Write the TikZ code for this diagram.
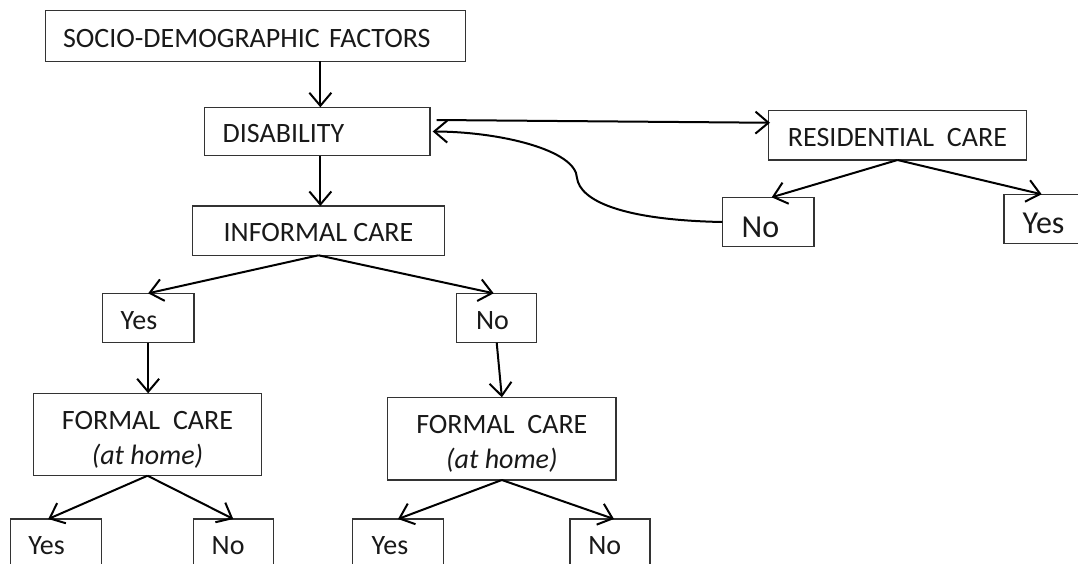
\documentclass[tikz,border=0pt]{standalone}
\usepackage{fontspec}
\setmainfont{Carlito}
\usetikzlibrary{arrows.meta}
\begin{document}
\begin{tikzpicture}[x=1pt,y=-1pt,
  box/.style={draw=black!80, line width=1.4pt, outer sep=0pt, inner ysep=0pt,
    anchor=north west, font=\fontsize{28}{35}\selectfont, text=black!90,
    text height=22.5pt, text depth=0pt},
  big/.style={font=\fontsize{32}{38}\selectfont, text height=30pt},
  lft/.style n args={2}{text width=#1, inner xsep=#2, align=left},
  two/.style={align=center, text height=65pt, text depth=5.6pt},
  arr/.style={line width=2pt, -{Straight Barb[length=13pt,width=22pt]}},
]
\useasboundingbox (0,0) rectangle (1078,563);
\clip (0,0) rectangle (1078,563);

% boxes
\node[box, lft={385.4pt}{17.3pt}, minimum height=50.6pt] (soc) at (45.7,10.7) {SOCIO-DEMOGRAPHIC FACTORS};
\node[box, lft={189.3pt}{18pt}, minimum height=48.4pt] (dis) at (204.7,107.3) {DISABILITY};
\node[box, minimum width=251.6pt, minimum height=49.3pt] (inf) at (192.7,206) {INFORMAL CARE};
\node[box, minimum width=258.4pt, minimum height=49.3pt] (res) at (768.3,110.7) {RESIDENTIAL\hspace{0.46em}CARE};
\node[box, big, lft={52.9pt}{19.4pt}, minimum height=49.4pt] (resno) at (722.3,197.3) {No};
\node[box, big, lft={54.6pt}{18.7pt}, minimum height=49pt] (resyes) at (1004,194.3) {Yes};
\node[box, lft={54.9pt}{18.4pt}, minimum height=49.4pt] (yes1) at (102.3,293.3) {Yes};
\node[box, lft={41.4pt}{19.3pt}, minimum height=49.4pt] (no1) at (456.7,293.3) {No};
\node[box, two, minimum width=228.4pt, minimum height=82.4pt] (f1) at (33.3,393.3) {FORMAL\hspace{0.46em}CARE\\\textit{(at home)}};
\node[box, two, minimum width=228.3pt, minimum height=82.7pt] (f2) at (387.7,397.3) {FORMAL\hspace{0.46em}CARE\\\textit{(at home)}};
\node[box, lft={55.8pt}{17.6pt}, minimum height=49.4pt] (b1yes) at (10.7,519) {Yes};
\node[box, lft={43.2pt}{18.4pt}, minimum height=49.4pt] (b1no) at (193.3,519) {No};
\node[box, lft={52.6pt}{19pt}, minimum height=49.4pt] (b2yes) at (352.7,519) {Yes};
\node[box, lft={43.4pt}{18.3pt}, minimum height=49.4pt] (b2no) at (570,519) {No};

% connectors
\coordinate (d1) at ([xshift=3pt]dis.north);
\coordinate (d2) at ([xshift=3pt]dis.south);
\draw[arr] (d1 |- soc.south) -- (d1);
\draw[arr] (d2) -- (d2 |- inf.north);
\draw[arr] (inf.south) -- (yes1.north);
\draw[arr] (inf.south) -- ([xshift=-3pt]no1.north);
\draw[arr] (yes1.south) -- (yes1.south |- f1.north);
\draw[arr] (no1.south) -- (f2.north);
\draw[arr] (f1.south) -- ([xshift=-8pt]b1yes.north);
\draw[arr] (f1.south) -- (b1no.north);
\draw[arr] (f2.south) -- (b2yes.north);
\draw[arr] (f2.south) -- ([xshift=4pt]b2no.north);
\draw[arr] ([xshift=6.7pt,yshift=11.5pt]dis.east) -- ([xshift=1.7pt,yshift=12.6pt]res.west);
\draw[arr] (res.south) -- ([xshift=3.5pt]resno.north);
\draw[arr] (res.south) -- ([xshift=-8.3pt]resyes.north);
\draw[arr] (resno.west) .. controls (620,220) and (580,200) .. (577,178)
  .. controls (576,150) and (500,131.7) .. ([xshift=2.7pt]dis.east);
\end{tikzpicture}
\end{document}
